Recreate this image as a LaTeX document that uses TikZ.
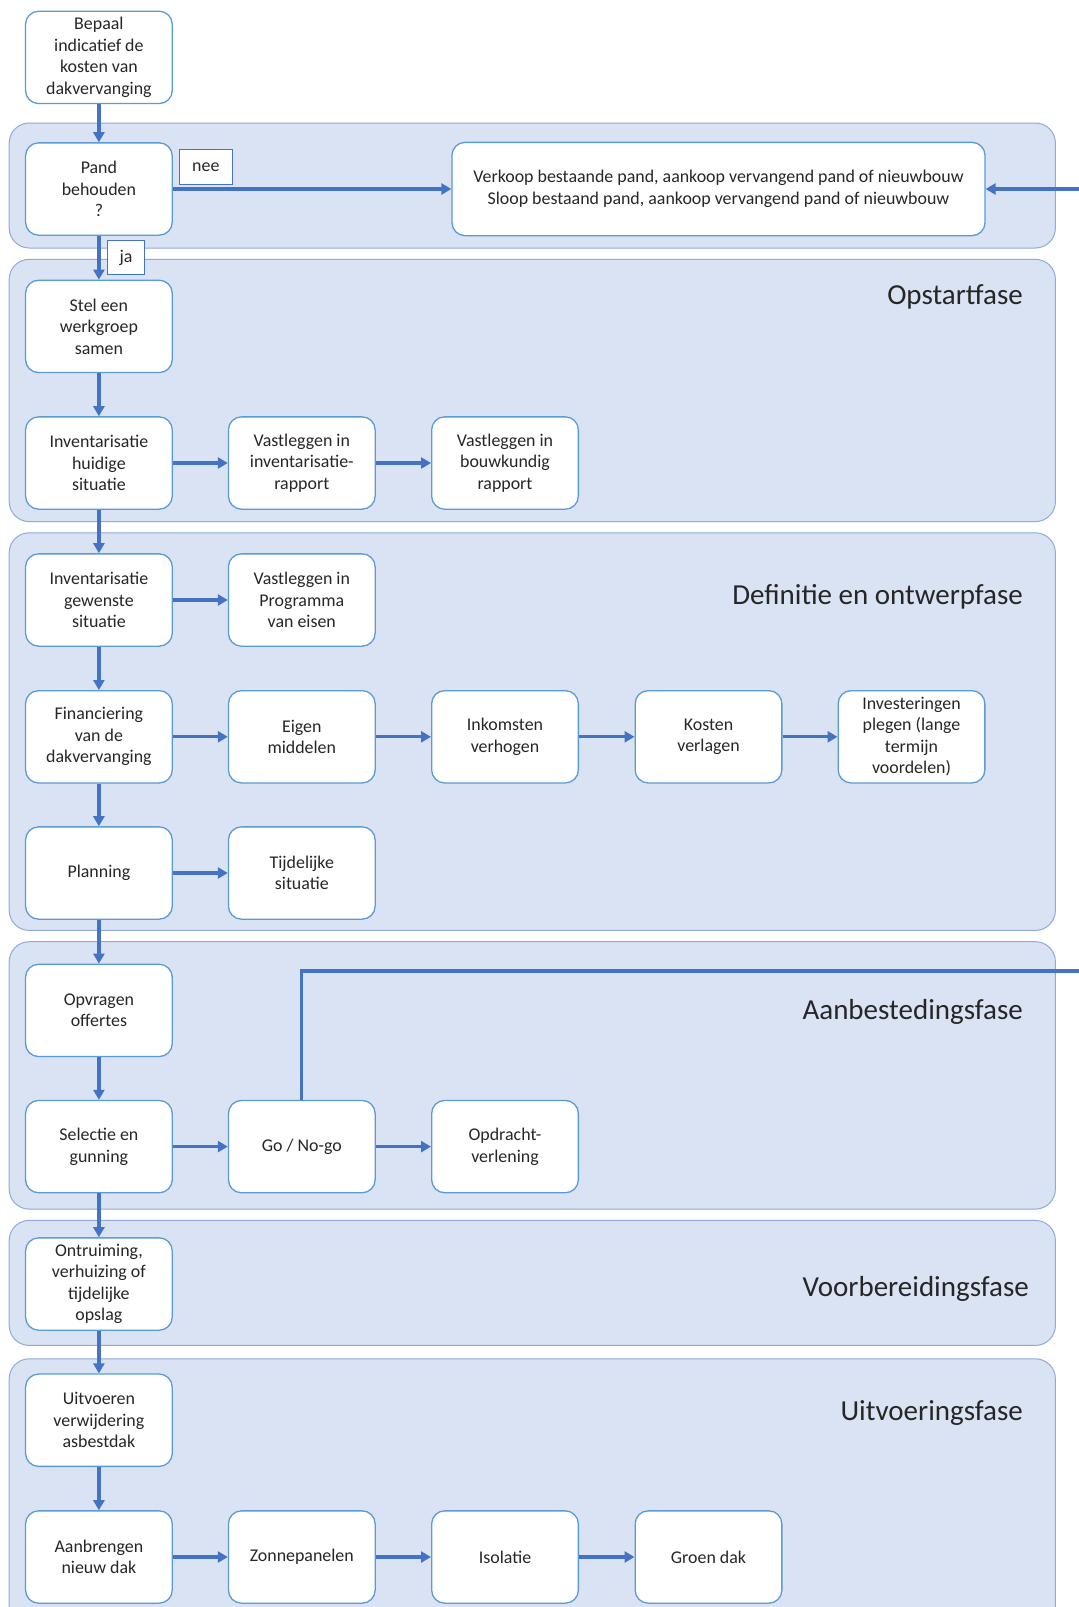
\documentclass[tikz,border=0pt]{standalone}
\usepackage{fontspec}
\setmainfont{Carlito}
\usetikzlibrary{arrows.meta}
\definecolor{arrowblue}{HTML}{4472C4}
\definecolor{boxblue}{HTML}{5B9BD5}
\definecolor{panelfill}{HTML}{DAE3F3}
\definecolor{panelline}{HTML}{8FAADC}
\begin{document}
\begin{tikzpicture}[x=1pt,y=-1pt,
  stepbox/.style={draw=boxblue, line width=1.3pt, fill=white, rounded corners=13pt, minimum width=146.7pt, minimum height=92.3pt, align=center, font=\fontsize{17.9}{21.5}\selectfont, inner sep=2pt, text=black!85},
  panel/.style={draw=panelline, line width=1pt, fill=panelfill, rounded corners=20pt},
  phase/.style={anchor=east, font=\fontsize{29}{34}\selectfont, inner sep=0pt, text=black!85},
  flow/.style={draw=arrowblue, line width=3.3pt, -{Triangle[length=10pt,width=11pt]}},
  tag/.style={draw=arrowblue, line width=1pt, fill=white, font=\fontsize{17.9}{21}\selectfont, inner sep=0pt, text=black!85}
]
\useasboundingbox (0,0) rectangle (1079,1607);
\clip (0,0) rectangle (1079,1607);
\fill[white] (0,0) rectangle (1079,1607);

% panels
\path[panel] (9.2,123) rectangle (1055.4,248);
\path[panel] (9.2,259.3) rectangle (1055.4,521.6);
\path[panel] (9.2,532.8) rectangle (1055.4,930.4);
\path[panel] (9.2,941.7) rectangle (1055.4,1209.1);
\path[panel] (9.2,1220.4) rectangle (1055.4,1345.4);
\path[panel] (9.2,1358.8) rectangle (1055.4,1660);

% phase labels
\node[phase] (ph1) at (1023,297) {Opstartfase};
\node[phase] (ph2) at (1023,597) {Definitie en ontwerpfase};
\node[phase] (ph3) at (1023,1012) {Aanbestedingsfase};
\node[phase] (ph4) at (1029,1289) {Voorbereidingsfase};
\node[phase] (ph5) at (1023,1413) {Uitvoeringsfase};

% boxes
\node[stepbox] (bepaal) at (98.9,57.4) {Bepaal\\indicatief de\\kosten van\\dakvervanging};
\node[stepbox] (pand) at (98.9,189) {Pand\\behouden\\?};
\node[stepbox, minimum width=533pt, minimum height=93.3pt] (verkoop) at (718.5,189) {Verkoop bestaande pand, aankoop vervangend pand of nieuwbouw\\Sloop bestaand pand, aankoop vervangend pand of nieuwbouw};
\node[stepbox] (stel) at (98.9,326.4) {Stel een\\werkgroep\\samen};
\node[stepbox] (invh) at (98.9,463) {Inventarisatie\\huidige\\situatie};
\node[stepbox] (vlir) at (301.8,463) {Vastleggen in\\inventarisatie-\\rapport};
\node[stepbox] (vlbr) at (505,463) {Vastleggen in\\bouwkundig\\rapport};
\node[stepbox] (invg) at (98.9,600) {Inventarisatie\\gewenste\\situatie};
\node[stepbox] (vlpe) at (301.8,600) {Vastleggen in\\Programma\\van eisen};
\node[stepbox] (fin) at (98.9,736.8) {Financiering\\van de\\dakvervanging};
\node[stepbox] (eigen) at (301.8,736.8) {Eigen\\middelen};
\node[stepbox] (inkom) at (505,736.8) {Inkomsten\\verhogen};
\node[stepbox] (kosten) at (708.5,736.8) {Kosten\\verlagen};
\node[stepbox] (invest) at (911.5,736.8) {Investeringen\\plegen (lange\\termijn\\voordelen)};
\node[stepbox] (plan) at (98.9,873) {Planning};
\node[stepbox] (tijd) at (301.8,873) {Tijdelijke\\situatie};
\node[stepbox] (opvr) at (98.9,1010.4) {Opvragen\\offertes};
\node[stepbox] (sel) at (98.9,1146.6) {Selectie en\\gunning};
\node[stepbox] (go) at (301.8,1146.6) {Go / No-go};
\node[stepbox] (opdr) at (505,1146.6) {Opdracht-\\verlening};
\node[stepbox] (ontr) at (98.9,1284) {Ontruiming,\\verhuizing of\\tijdelijke\\opslag};
\node[stepbox] (uitv) at (98.9,1420.2) {Uitvoeren\\verwijdering\\asbestdak};
\node[stepbox] (aanb) at (98.9,1557) {Aanbrengen\\nieuw dak};
\node[stepbox] (zon) at (301.8,1557) {Zonnepanelen};
\node[stepbox] (iso) at (505,1557) {Isolatie};
\node[stepbox] (groen) at (708.5,1557) {Groen dak};

% off-page ends
\coordinate (offR) at (1079,189);
\coordinate (offG) at (1079,971);

% connectors
\draw[flow] (bepaal) -- (pand);
\draw[flow] (pand.east) -- (verkoop.west);
\draw[flow] (offR) -- (verkoop.east);
\draw[flow] (pand) -- (stel);
\draw[flow] (stel) -- (invh);
\draw[flow] (invh) -- (vlir);
\draw[flow] (vlir) -- (vlbr);
\draw[flow] (invh) -- (invg);
\draw[flow] (invg) -- (vlpe);
\draw[flow] (invg) -- (fin);
\draw[flow] (fin) -- (eigen);
\draw[flow] (eigen) -- (inkom);
\draw[flow] (inkom) -- (kosten);
\draw[flow] (kosten) -- (invest);
\draw[flow] (fin) -- (plan);
\draw[flow] (plan) -- (tijd);
\draw[flow] (plan) -- (opvr);
\draw[flow] (opvr) -- (sel);
\draw[flow] (sel) -- (go);
\draw[flow] (go) -- (opdr);
\draw[draw=arrowblue, line width=3.3pt] (go.north) |- (offG);
\draw[flow] (sel) -- (ontr);
\draw[flow] (ontr) -- (uitv);
\draw[flow] (uitv) -- (aanb);
\draw[flow] (aanb) -- (zon);
\draw[flow] (zon) -- (iso);
\draw[flow] (iso) -- (groen);

% tags
\node[tag, minimum width=53.6pt, minimum height=34.8pt] (nee) at (205.8,167) {nee};
\node[tag, minimum width=37pt, minimum height=33.8pt] (ja) at (126,257.7) {ja};
\end{tikzpicture}
\end{document}
